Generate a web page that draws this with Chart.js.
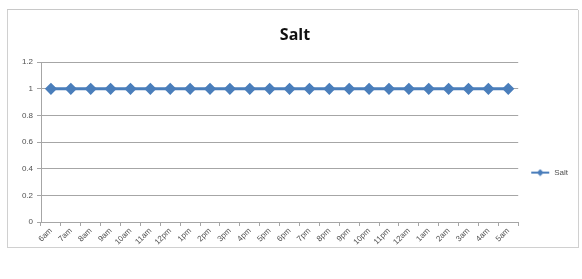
<!DOCTYPE html>
<html>
<head>
<meta charset="utf-8">
<script src="https://cdn.jsdelivr.net/npm/chart.js@4"></script>
<style>
    body { margin: 0; background: #fff; width: 582px; height: 279px; overflow: hidden; }
    #topline { position: absolute; left: 7px; top: 9px; width: 571px; height: 1px; background: #c8c8c8; }
    #frame { position: absolute; left: 7px; top: 10px; width: 570px; height: 237px; border: 1px solid #d0d0d0; border-top: none; }
    #frame canvas { display: block; }
</style>
</head>
<body>
<div id="topline"></div>
<div id="frame"><canvas id="saltChart" width="570" height="237"></canvas></div>
<script>
// 数据
var hours = ['6am', '7am', '8am', '9am', '10am', '11am', '12pm', '1pm', '2pm', '3pm', '4pm', '5pm',
             '6pm', '7pm', '8pm', '9pm', '10pm', '11pm', '12am', '1am', '2am', '3am', '4am', '5am'];
var saltValues = [1, 1, 1, 1, 1, 1, 1, 1, 1, 1, 1, 1, 1, 1, 1, 1, 1, 1, 1, 1, 1, 1, 1, 1];
var yTicks = [0, 0.2, 0.4, 0.6, 0.8, 1, 1.2];

var blue = '#4a7ebb';
var gridGray = '#a6a6a6';
var labelGray = '#505050';

// 图例标记：线 + 菱形（左边留空白）
function legendMarker() {
    var c = document.createElement('canvas');
    c.width = 32;
    c.height = 8;
    var ctx = c.getContext('2d');
    ctx.strokeStyle = blue;
    ctx.lineWidth = 2;
    ctx.beginPath();
    ctx.moveTo(13, 4);
    ctx.lineTo(31, 4);
    ctx.stroke();
    ctx.fillStyle = blue;
    ctx.beginPath();
    ctx.moveTo(22, 0.5);
    ctx.lineTo(25.5, 4);
    ctx.lineTo(22, 7.5);
    ctx.lineTo(18.5, 4);
    ctx.closePath();
    ctx.fill();
    return c;
}

new Chart(document.getElementById('saltChart'), {
    type: 'line',
    data: {
        labels: hours,
        datasets: [{
            label: 'Salt',
            data: saltValues,
            borderColor: blue,
            backgroundColor: blue,
            borderWidth: 3,
            pointStyle: 'rectRot',
            pointRadius: 4,
            pointBackgroundColor: blue,
            pointBorderColor: blue,
            tension: 0
        }]
    },
    options: {
        responsive: false,
        animation: false,
        layout: { padding: { top: 4, right: 0, bottom: 2, left: 4 } },
        plugins: {
            title: {
                display: true,
                text: 'Salt',
                color: '#111',
                font: { family: 'Open Sans', size: 16, weight: 'bold' },
                padding: { top: 12, bottom: 17 }
            },
            legend: {
                display: true,
                position: 'right',
                title: {
                    display: true,
                    text: ' ',
                    font: { size: 1 },
                    padding: { top: 85, bottom: 0 }
                },
                labels: {
                    usePointStyle: true,
                    pointStyle: legendMarker(),
                    pointStyleWidth: 32,
                    color: labelGray,
                    font: { family: 'Liberation Sans', size: 8 },
                    padding: 0
                }
            },
            tooltip: { enabled: false }
        },
        scales: {
            x: {
                offset: true,
                afterFit: function(scale) { scale.height = 23; },
                grid: { display: true, drawOnChartArea: false, offset: true, tickLength: 4, color: gridGray },
                border: { color: gridGray },
                ticks: {
                    color: labelGray,
                    font: { family: 'Liberation Sans', size: 8 },
                    maxRotation: 45,
                    minRotation: 45,
                    autoSkip: false,
                    padding: 0
                }
            },
            y: {
                min: 0,
                max: 1.2,
                afterBuildTicks: function(scale) {
                    scale.ticks = yTicks.map(function(v) { return { value: v }; });
                },
                afterFit: function(scale) { scale.width = 29; },
                grid: { color: gridGray, tickLength: 4 },
                border: { color: gridGray },
                ticks: {
                    color: labelGray,
                    font: { family: 'Liberation Sans', size: 8 },
                    padding: 4,
                    callback: function(v) { return String(+v.toFixed(1)); }
                }
            }
        }
    }
});
</script>
</body>
</html>
